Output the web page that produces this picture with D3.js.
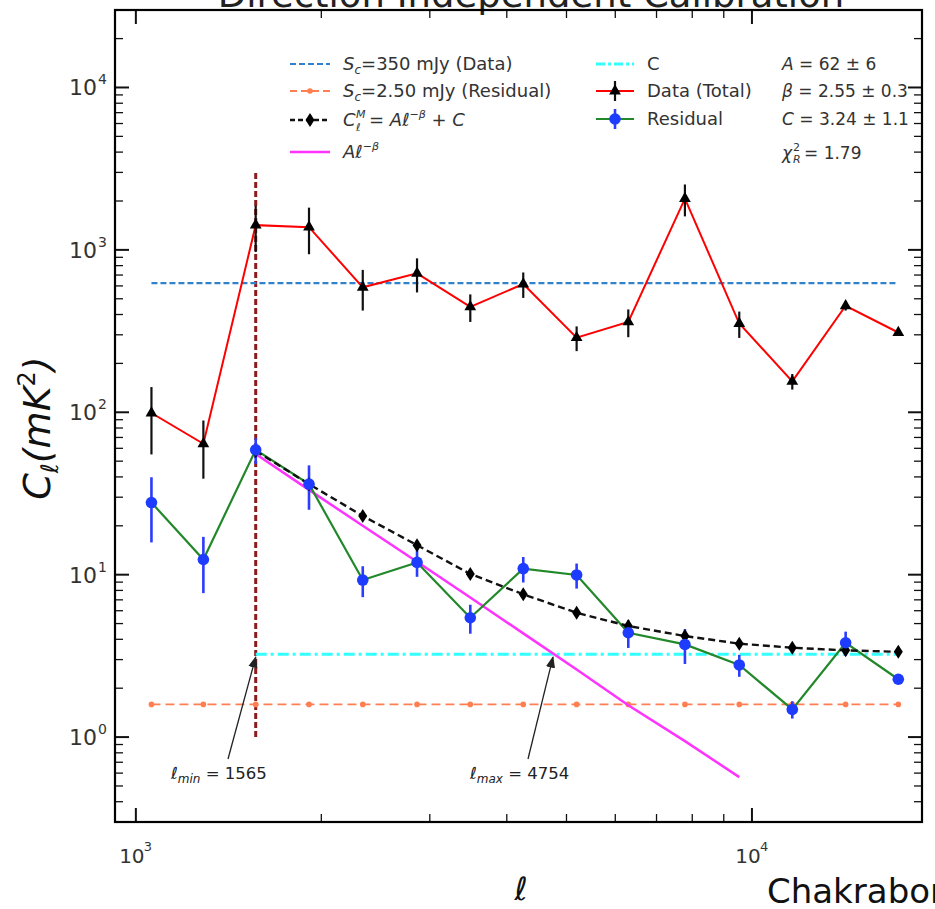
<!DOCTYPE html>
<html><head><meta charset="utf-8">
<script src="https://cdn.jsdelivr.net/npm/d3@7"></script>
<style>
html,body{margin:0;padding:0;background:#fff;overflow:hidden}
svg{display:block}
text{font-family:"DejaVu Sans",sans-serif}
</style></head>
<body>
<svg id="chart" width="935" height="909"></svg>
<script>
// ---------------- data ----------------
const ell = [1060,1287,1565,1910,2335,2860,3490,4254,5193,6299,7784,9537,11627,14193,17280];
const dataTotal = [99,64,1420,1380,588,717,446,616,288,360,2068,352,155,453,310];
const dataTotalErr = [44,25,450,440,165,170,86,110,50,70,460,65,17,30,12];
const residual = [27.8,12.4,58.7,36.1,9.27,11.9,5.43,10.9,9.96,4.39,3.72,2.78,1.48,3.81,2.27];
const residualErr = [12,4.7,10.6,11,2.0,2.2,1.1,1.95,1.75,0.85,0.9,0.43,0.18,0.65,0.05];
// model C_l^M = A l^-beta + C, from l_min onward
const modelEll = [1565,1910,2335,2860,3490,4254,5193,6299,7784,9537,11627,14193,17280];
const modelVals = [57.8,36.1,23.0,15.2,10.1,7.57,5.83,4.83,4.19,3.76,3.55,3.42,3.35];
// power-law part A l^-beta
const powEll = [1565,1910,2335,2860,3490,4254,5193,6299,7784,9537];
const powVals = [55.4,33.3,20.0,12.0,7.23,4.35,2.61,1.57,0.944,0.567];
const scData = 625;      // S_c = 350 mJy (Data)
const scResidual = 1.59; // S_c = 2.50 mJy (Residual)
const constC = 3.24;
const lMin = 1565, lMax = 4754;
const vlineRange = [1, 3000];
const yTickExps = [0,1,2,3,4];
const xTickExps = [3,4];
const fitText = ["A = 62 ± 6","β = 2.55 ± 0.3","C = 3.24 ± 1.1","1.79"];

// ---------------- layout ----------------
const L=115, R=922, T=10, B=822;
const svg = d3.select("#chart");
const x = d3.scaleLog().domain([925,18880]).range([L,R]);
const y = d3.scaleLog().domain([0.3,30000]).range([B,T]);

// title (cut off at the top, as in the reference)
svg.append("text").attr("x",531).attr("y",7).attr("text-anchor","middle")
  .attr("font-size",37).attr("fill","#222").text("Direction Independent Calibration");

const plot = svg.append("g");
const clip = svg.append("clipPath").attr("id","pc");
clip.append("rect").attr("x",L).attr("y",T).attr("width",R-L).attr("height",B-T);
const pg = plot.append("g").attr("clip-path","url(#pc)");

const line = d3.line().x(d=>x(d[0])).y(d=>y(d[1]));

// brown vertical line at l_min
pg.append("line").attr("x1",x(lMin)).attr("x2",x(lMin))
  .attr("y1",y(vlineRange[0])).attr("y2",y(vlineRange[1]))
  .attr("stroke","#8b1c1c").attr("stroke-width",3).attr("stroke-dasharray","6,3");

// S_c data (blue dashed)
pg.append("path").attr("d",line([[ell[0],scData],[ell[ell.length-1],scData]]))
  .attr("fill","none").attr("stroke","#3182cc").attr("stroke-width",2.2).attr("stroke-dasharray","6,3");
// S_c residual (orange dashed with dots)
pg.append("path").attr("d",line(ell.map(l=>[l,scResidual])))
  .attr("fill","none").attr("stroke","#ff7f50").attr("stroke-width",1.8).attr("stroke-dasharray","9,5");
pg.selectAll(".od").data(ell).enter().append("circle")
  .attr("cx",d=>x(d)).attr("cy",y(scResidual)).attr("r",2.8).attr("fill","#ff7f50");
// C (cyan dash-dot)
pg.append("path").attr("d",line([[lMin,constC],[ell[ell.length-1],constC]]))
  .attr("fill","none").attr("stroke","#33ffff").attr("stroke-width",3).attr("stroke-dasharray","11,4,3,4");

// magenta power law
pg.append("path").attr("d",line(powEll.map((l,i)=>[l,powVals[i]])))
  .attr("fill","none").attr("stroke","#ff33ff").attr("stroke-width",2.5);

// data total
pg.append("path").attr("d",line(ell.map((l,i)=>[l,dataTotal[i]])))
  .attr("fill","none").attr("stroke","red").attr("stroke-width",2);
pg.selectAll(".de").data(ell).enter().append("line")
  .attr("x1",d=>x(d)).attr("x2",d=>x(d))
  .attr("y1",(d,i)=>y(dataTotal[i]+dataTotalErr[i]))
  .attr("y2",(d,i)=>y(Math.max(dataTotal[i]-dataTotalErr[i],0.01)))
  .attr("stroke","#111").attr("stroke-width",2.2);
const tri = d3.symbol().type(d3.symbolTriangle).size(60);
pg.selectAll(".dm").data(ell).enter().append("path")
  .attr("d",tri).attr("transform",(d,i)=>`translate(${x(d)},${y(dataTotal[i])})`).attr("fill","#000");

// residual
pg.append("path").attr("d",line(ell.map((l,i)=>[l,residual[i]])))
  .attr("fill","none").attr("stroke","#22882a").attr("stroke-width",2.2);
pg.selectAll(".re").data(ell).enter().append("line")
  .attr("x1",d=>x(d)).attr("x2",d=>x(d))
  .attr("y1",(d,i)=>y(residual[i]+residualErr[i]))
  .attr("y2",(d,i)=>y(residual[i]-residualErr[i]))
  .attr("stroke","#2b3cff").attr("stroke-width",2.6);

// model
pg.append("path").attr("d",line(modelEll.map((l,i)=>[l,modelVals[i]])))
  .attr("fill","none").attr("stroke","#111").attr("stroke-width",2.4).attr("stroke-dasharray","7,4");
const diamondPath = "M0,-7L4.5,0L0,7L-4.5,0Z";
pg.selectAll(".mm").data(modelEll).enter().append("path")
  .attr("d",diamondPath).attr("transform",(d,i)=>`translate(${x(d)},${y(modelVals[i])})`).attr("fill","#000");

pg.selectAll(".rm").data(ell).enter().append("circle")
  .attr("cx",d=>x(d)).attr("cy",(d,i)=>y(residual[i])).attr("r",5.8).attr("fill","#1e3cff");

// ---------------- axes ----------------
const axG = svg.append("g");
const tickCol = "#111";
function minorVals(dom){
  const out=[]; const lo=Math.floor(Math.log10(dom[0])), hi=Math.ceil(Math.log10(dom[1]));
  for(let e=lo;e<=hi;e++) for(let k=1;k<10;k++){const v=k*Math.pow(10,e); if(v>=dom[0]&&v<=dom[1]) out.push({v,major:k===1});}
  return out;
}
const xt = minorVals(x.domain()), yt = minorVals(y.domain());
xt.forEach(t=>{
  const px=x(t.v), len=t.major?14:8, w=t.major?2:1.3;
  axG.append("line").attr("x1",px).attr("x2",px).attr("y1",B).attr("y2",B-len).attr("stroke",tickCol).attr("stroke-width",w);
  axG.append("line").attr("x1",px).attr("x2",px).attr("y1",T).attr("y2",T+len).attr("stroke",tickCol).attr("stroke-width",w);
});
yt.forEach(t=>{
  const py=y(t.v), len=t.major?14:8, w=t.major?2:1.3;
  axG.append("line").attr("x1",L).attr("x2",L+len).attr("y1",py).attr("y2",py).attr("stroke",tickCol).attr("stroke-width",w);
  axG.append("line").attr("x1",R).attr("x2",R-len).attr("y1",py).attr("y2",py).attr("stroke",tickCol).attr("stroke-width",w);
});
axG.append("rect").attr("x",L).attr("y",T).attr("width",R-L).attr("height",B-T)
  .attr("fill","none").attr("stroke","#000").attr("stroke-width",2.2);

// y tick labels
yTickExps.forEach(e=>{
  svg.append("text").attr("x",97).attr("y",y(Math.pow(10,e))+8).attr("text-anchor","end")
    .attr("font-size",22).attr("fill","#333").text("10");
  svg.append("text").attr("x",98).attr("y",y(Math.pow(10,e))-3).attr("font-size",14).attr("fill","#333").text(e);
});
// x tick labels
xTickExps.forEach(e=>{
  const px=x(Math.pow(10,e));
  svg.append("text").attr("x",px-4).attr("y",863).attr("text-anchor","middle").attr("font-size",20).attr("fill","#333").text("10");
  svg.append("text").attr("x",px+8).attr("y",851).attr("font-size",13).attr("fill","#333").text(e);
});

// axis labels
const yl = svg.append("text").attr("transform","translate(50,428) rotate(-90)").attr("text-anchor","middle")
  .attr("font-size",38).attr("fill","#111").attr("font-style","italic");
yl.append("tspan").text("C");
yl.append("tspan").attr("font-size",24).attr("dy",8).text("ℓ");
yl.append("tspan").attr("dy",-8).text("(mK");
yl.append("tspan").attr("font-size",24).attr("dy",-15).attr("font-style","normal").text("2");
yl.append("tspan").attr("dy",15).text(")");

svg.append("text").attr("x",521).attr("y",900).attr("text-anchor","middle").attr("font-size",32)
  .attr("font-style","italic").attr("fill","#111").text("ℓ");

svg.append("text").attr("x",767).attr("y",903).attr("font-family","'Liberation Sans',Arial,sans-serif")
  .attr("font-size",34).attr("fill","#111").text("Chakraborty et al. (2019)");

// ---------------- annotations ----------------
const defs = svg.append("defs");
defs.append("marker").attr("id","ah").attr("viewBox","0 0 10 10").attr("refX",9).attr("refY",5)
  .attr("markerWidth",9).attr("markerHeight",9).attr("orient","auto-start-reverse")
  .append("path").attr("d","M0,1L10,5L0,9Z").attr("fill","#222");
function annot(lval, tx, ty){
  svg.append("line").attr("x1",tx).attr("y1",ty).attr("x2",x(lval)).attr("y2",y(constC)+3)
    .attr("stroke","#222").attr("stroke-width",1.3).attr("marker-end","url(#ah)");
  return svg.append("text").attr("font-size",16.5).attr("fill","#222");
}
const a1 = annot(lMin, 228, 759);
a1.attr("x",171).attr("y",779);
a1.append("tspan").attr("font-style","italic").text("ℓ");
a1.append("tspan").attr("font-size",12).attr("font-style","italic").attr("dy",4).text("min");
a1.append("tspan").attr("dy",-4).text(" = 1565");
const a2 = annot(lMax, 528, 759);
a2.attr("x",470).attr("y",779);
a2.append("tspan").attr("font-style","italic").text("ℓ");
a2.append("tspan").attr("font-size",12).attr("font-style","italic").attr("dy",4).text("max");
a2.append("tspan").attr("dy",-4).text(" = 4754");

// ---------------- legend ----------------
const lg = svg.append("g");
const tcol = "#333", fs = 18;
function hline(x1,x2,yy,col,w,dash){
  lg.append("line").attr("x1",x1).attr("x2",x2).attr("y1",yy).attr("y2",yy).attr("stroke",col)
    .attr("stroke-width",w).attr("stroke-dasharray",dash||null);
}
// col 1
const c1 = 290, c1e = 330, c1t = 343;
const rows = [64, 91, 120, 152];
hline(c1,c1e,rows[0],"#3182cc",2.2,"6,3");
lg.append("text").attr("x",c1t).attr("y",rows[0]+6).attr("font-size",fs).attr("fill",tcol)
  .call(t=>{t.append("tspan").attr("font-style","italic").text("S");
    t.append("tspan").attr("font-size",12).attr("font-style","italic").attr("dy",4).text("c");
    t.append("tspan").attr("dy",-4).text("=350 mJy (Data)");});
hline(c1,c1e,rows[1],"#ff7f50",1.8,"7,4");
lg.append("circle").attr("cx",(c1+c1e)/2).attr("cy",rows[1]).attr("r",2.8).attr("fill","#ff7f50");
lg.append("text").attr("x",c1t).attr("y",rows[1]+6).attr("font-size",fs).attr("fill",tcol)
  .call(t=>{t.append("tspan").attr("font-style","italic").text("S");
    t.append("tspan").attr("font-size",12).attr("font-style","italic").attr("dy",4).text("c");
    t.append("tspan").attr("dy",-4).text("=2.50 mJy (Residual)");});
hline(c1,c1e,rows[2],"#111",2.4,"5,3");
lg.append("path").attr("d",diamondPath).attr("transform",`translate(${(c1+c1e)/2},${rows[2]})`).attr("fill","#000");
lg.append("text").attr("x",c1t).attr("y",rows[2]+6).attr("font-size",fs).attr("fill",tcol).attr("font-style","italic").text("C");
lg.append("text").attr("x",c1t+13).attr("y",rows[2]-2).attr("font-size",11).attr("fill",tcol).attr("font-style","italic").text("M");
lg.append("text").attr("x",c1t+13).attr("y",rows[2]+11).attr("font-size",11).attr("fill",tcol).attr("font-style","italic").text("ℓ");
lg.append("text").attr("x",c1t+26).attr("y",rows[2]+6).attr("font-size",fs).attr("fill",tcol)
  .call(t=>{t.append("tspan").text("= ");
    t.append("tspan").attr("font-style","italic").text("Aℓ");
    t.append("tspan").attr("font-size",11).attr("font-style","italic").attr("dy",-8).text("−β");
    t.append("tspan").attr("dy",8).text(" + ");
    t.append("tspan").attr("font-style","italic").text("C");});
hline(c1,c1e,rows[3],"#ff33ff",2.5);
lg.append("text").attr("x",c1t).attr("y",rows[3]+6).attr("font-size",fs).attr("fill",tcol)
  .call(t=>{t.append("tspan").attr("font-style","italic").text("Aℓ");
    t.append("tspan").attr("font-size",11).attr("font-style","italic").attr("dy",-8).text("−β");});
// col 2
const c2 = 596, c2e = 634, c2t = 647;
hline(c2,c2e,rows[0],"#33ffff",3,"9,3,3,3");
lg.append("text").attr("x",c2t).attr("y",rows[0]+6).attr("font-size",fs).attr("fill",tcol).text("C");
hline(c2,c2e,rows[1],"red",2);
lg.append("line").attr("x1",(c2+c2e)/2).attr("x2",(c2+c2e)/2).attr("y1",rows[1]-10).attr("y2",rows[1]+10).attr("stroke","#111").attr("stroke-width",2.2);
lg.append("path").attr("d",tri).attr("transform",`translate(${(c2+c2e)/2},${rows[1]})`).attr("fill","#000");
lg.append("text").attr("x",c2t).attr("y",rows[1]+6).attr("font-size",fs).attr("fill",tcol).text("Data (Total)");
hline(c2,c2e,rows[2]-1,"#22882a",2.2);
lg.append("line").attr("x1",(c2+c2e)/2).attr("x2",(c2+c2e)/2).attr("y1",rows[2]-11).attr("y2",rows[2]+9).attr("stroke","#2b3cff").attr("stroke-width",2.6);
lg.append("circle").attr("cx",(c2+c2e)/2).attr("cy",rows[2]-1).attr("r",5.8).attr("fill","#1e3cff");
lg.append("text").attr("x",c2t).attr("y",rows[2]+5).attr("font-size",fs).attr("fill",tcol).text("Residual");
// col 3 fit parameters
const c3 = 782, fs3 = 17;
function fitLine(yy, sym, rest){
  lg.append("text").attr("x",c3).attr("y",yy).attr("font-size",fs3).attr("fill",tcol)
    .call(t=>{t.append("tspan").attr("font-style","italic").text(sym); t.append("tspan").text(rest);});
}
fitLine(rows[0]+6,"A"," = 62 ± 6");
fitLine(rows[1]+6,"β"," = 2.55 ± 0.3");
fitLine(rows[2]+5,"C"," = 3.24 ± 1.1");
lg.append("text").attr("x",c3).attr("y",rows[3]+7).attr("font-size",fs3).attr("fill",tcol).attr("font-style","italic").text("χ");
lg.append("text").attr("x",c3+11).attr("y",rows[3]-1).attr("font-size",11).attr("fill",tcol).text("2");
lg.append("text").attr("x",c3+11).attr("y",rows[3]+11).attr("font-size",11).attr("fill",tcol).attr("font-style","italic").text("R");
lg.append("text").attr("x",c3+22).attr("y",rows[3]+7).attr("font-size",fs3).attr("fill",tcol).text("= "+fitText[3]);
</script>
</body></html>
